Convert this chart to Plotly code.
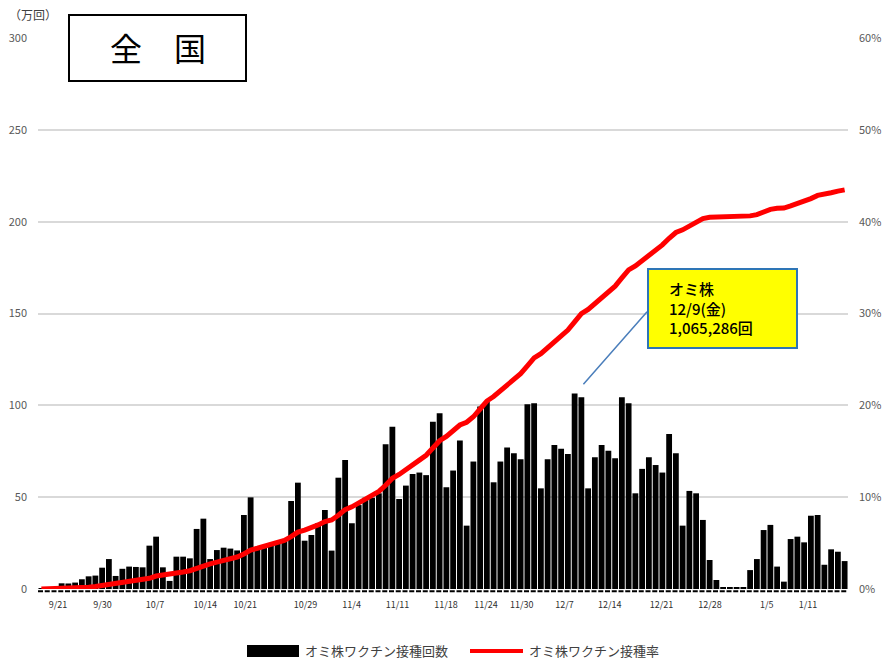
import plotly.graph_objects as go
import datetime as dt

# ---- data ----
start = dt.date(2022, 9, 21)
doses_10k = [0.5, 0.7, 1.0, 3.1, 3.0, 3.5, 5.3, 6.9, 7.3, 11.6,
             16.3, 7.1, 11.0, 12.2, 12.0, 11.8, 23.6, 28.5, 11.8, 4.4,
             17.6, 17.6, 16.7, 32.7, 38.3, 16.3, 21.2, 22.5, 22.0, 21.0,
             40.3, 49.9, 22.7, 23.6, 25.0, 25.6, 26.0, 47.9, 57.9, 26.3,
             29.4, 35.8, 43.0, 20.9, 60.6, 70.3, 35.8, 45.7, 49.7, 49.7,
             52.1, 78.8, 88.4, 49.0, 56.3, 62.6, 63.4, 62.0, 91.1, 95.7,
             55.4, 64.5, 80.8, 34.5, 69.4, 99.3, 102.0, 58.1, 69.4, 77.0,
             73.9, 70.6, 100.6, 101.1, 54.8, 70.6, 78.4, 76.4, 73.5, 106.5,
             104.4, 54.8, 71.7, 78.4, 75.3, 71.2, 104.4, 101.1, 52.1, 65.4,
             71.7, 67.5, 63.4, 84.4, 73.9, 34.5, 53.4, 52.1, 37.6, 15.8,
             4.9, 1.0, 1.0, 1.0, 1.0, 10.3, 16.3, 32.1, 34.9, 12.2,
             4.0, 27.2, 28.5, 25.4, 39.9, 40.3, 13.2, 21.6, 20.3, 15.2]
rate_pct = [0.00, 0.01, 0.02, 0.05, 0.07, 0.10, 0.15, 0.20, 0.27, 0.37,
            0.51, 0.57, 0.66, 0.76, 0.87, 0.97, 1.17, 1.41, 1.51, 1.55,
            1.70, 1.85, 1.99, 2.27, 2.60, 2.74, 2.92, 3.11, 3.30, 3.48,
            3.82, 4.25, 4.44, 4.64, 4.86, 5.07, 5.30, 5.70, 6.20, 6.42,
            6.67, 6.98, 7.35, 7.52, 8.04, 8.64, 8.95, 9.34, 9.76, 10.18,
            10.63, 11.30, 12.06, 12.47, 12.95, 13.49, 14.03, 14.56, 15.34, 16.15,
            16.62, 17.18, 17.86, 18.16, 18.75, 19.60, 20.47, 20.96, 21.56, 22.21,
            22.84, 23.45, 24.30, 25.17, 25.63, 26.24, 26.91, 27.56, 28.19, 29.09,
            29.98, 30.45, 31.06, 31.73, 32.38, 32.98, 33.87, 34.74, 35.18, 35.74,
            36.35, 36.93, 37.47, 38.19, 38.82, 39.11, 39.57, 40.01, 40.33, 40.47,
            40.51, 40.52, 40.53, 40.54, 40.54, 40.63, 40.77, 41.04, 41.34, 41.45,
            41.48, 41.71, 41.96, 42.17, 42.51, 42.86, 42.97, 43.15, 43.33, 43.46]
dates = [(start + dt.timedelta(days=i)).strftime("%-m/%-d") for i in range(len(doses_10k))]
tick_labels = ["9/21", "9/30", "10/7", "10/14", "10/21", "10/29", "11/4", "11/11",
               "11/18", "11/24", "11/30", "12/7", "12/14", "12/21", "12/28", "1/5", "1/11"]
tick_pos = [2.47, 9.06, 16.84, 24.27, 30.21, 39.12, 45.96, 52.75,
            59.93, 65.87, 71.17, 77.5, 84.19, 91.87, 99.05, 107.47, 113.57]

bar_name = "オミ株ワクチン接種回数"
line_name = "オミ株ワクチン接種率"
callout_text = "オミ株<br>12/9(金)<br>1,065,286回"
callout_day = "12/9"

FONT = "Noto Sans CJK JP"
idx = list(range(len(doses_10k)))

fig = go.Figure()
fig.add_trace(go.Bar(x=idx, y=doses_10k, name=bar_name, marker_color="black",
                     marker_line_width=0, customdata=dates,
                     hovertemplate="%{customdata}: %{y}万回<extra></extra>"))
fig.add_trace(go.Scatter(x=idx, y=rate_pct, name=line_name, yaxis="y2", mode="lines",
                         line=dict(color="#ff0000", width=5), customdata=dates,
                         hovertemplate="%{customdata}: %{y}%<extra></extra>"))

fig.update_layout(
    width=883, height=660,
    margin=dict(l=38, r=35, t=38, b=71, autoexpand=False),
    paper_bgcolor="white", plot_bgcolor="white",
    showlegend=False, bargap=0.14,
    font=dict(family=FONT, color="#404040"),
    xaxis=dict(range=[-0.5, len(idx) - 0.5], tickmode="array", tickvals=tick_pos,
               ticktext=tick_labels, tickfont=dict(size=9, color="#303030"),
               showgrid=False, zeroline=False, ticks="", ticklabelstandoff=9,
               automargin=False),
    yaxis=dict(range=[0, 300], dtick=50, showgrid=True, gridcolor="#d9d9d9",
               gridwidth=1.5, zeroline=False, tickfont=dict(size=11, color="#595959"),
               ticklabelstandoff=10, automargin=False),
    yaxis2=dict(range=[0, 60], dtick=10, ticksuffix="%", overlaying="y", side="right",
                showgrid=False, zeroline=False, tickfont=dict(size=11, color="#595959"),
                ticklabelstandoff=10, automargin=False),
)

def px_x(p):
    return (p - 38) / 810

def px_y(p):
    return (589 - p) / 551

# baseline dash pattern
fig.add_shape(type="line", xref="x", yref="paper", x0=-0.5, x1=len(idx) - 0.5, y0=-0.004, y1=-0.004,
              line=dict(color="black", width=2, dash="5px,1.75px"))

# title box
fig.add_shape(type="rect", xref="paper", yref="paper", x0=px_x(69), x1=px_x(246), y0=px_y(81), y1=px_y(15),
              line=dict(color="black", width=2), fillcolor="white", layer="above")
fig.add_annotation(xref="paper", yref="paper", x=px_x(157.5), y=px_y(47), xanchor="center", yanchor="middle",
                   text="全　国", showarrow=False, font=dict(size=32, color="black", family=FONT))
fig.add_annotation(xref="paper", yref="paper", x=px_x(7), y=px_y(15), xanchor="left", yanchor="middle",
                   text="（万回）", showarrow=False, font=dict(size=12, color="#404040", family=FONT))

# callout
ci = dates.index(callout_day)
fig.add_annotation(x=ci + 1.3, y=doses_10k[ci] + 5, xref="x", yref="y", text="", showarrow=True,
                   arrowhead=0, arrowwidth=1.5, arrowcolor="#4a7ebb", ax=65, ay=-74)
fig.add_shape(type="rect", xref="paper", yref="paper", x0=px_x(648), x1=px_x(797), y0=px_y(348), y1=px_y(269),
              line=dict(color="#2e75b6", width=2), fillcolor="#ffff00", layer="above")
fig.add_annotation(xref="paper", yref="paper", x=px_x(667), y=px_y(308), xanchor="left", yanchor="middle",
                   align="left", text=callout_text, showarrow=False,
                   font=dict(size=15, color="black", family=FONT, weight=500))

# legend (custom, bottom)
fig.add_shape(type="rect", xref="paper", yref="paper", x0=px_x(247), x1=px_x(299),
              y0=px_y(657), y1=px_y(645), fillcolor="black", line_width=0)
fig.add_annotation(xref="paper", yref="paper", x=px_x(303), y=px_y(650),
                   xanchor="left", yanchor="middle", text=bar_name, showarrow=False,
                   font=dict(size=13, color="#404040", family=FONT))
fig.add_shape(type="line", xref="paper", yref="paper", x0=px_x(470), x1=px_x(523),
              y0=px_y(651), y1=px_y(651), line=dict(color="#ff0000", width=4))
fig.add_annotation(xref="paper", yref="paper", x=px_x(527), y=px_y(650),
                   xanchor="left", yanchor="middle", text=line_name, showarrow=False,
                   font=dict(size=13, color="#404040", family=FONT))

fig.write_html("out.html", config={"displayModeBar": False},
               post_script="document.body.style.margin='0';")
